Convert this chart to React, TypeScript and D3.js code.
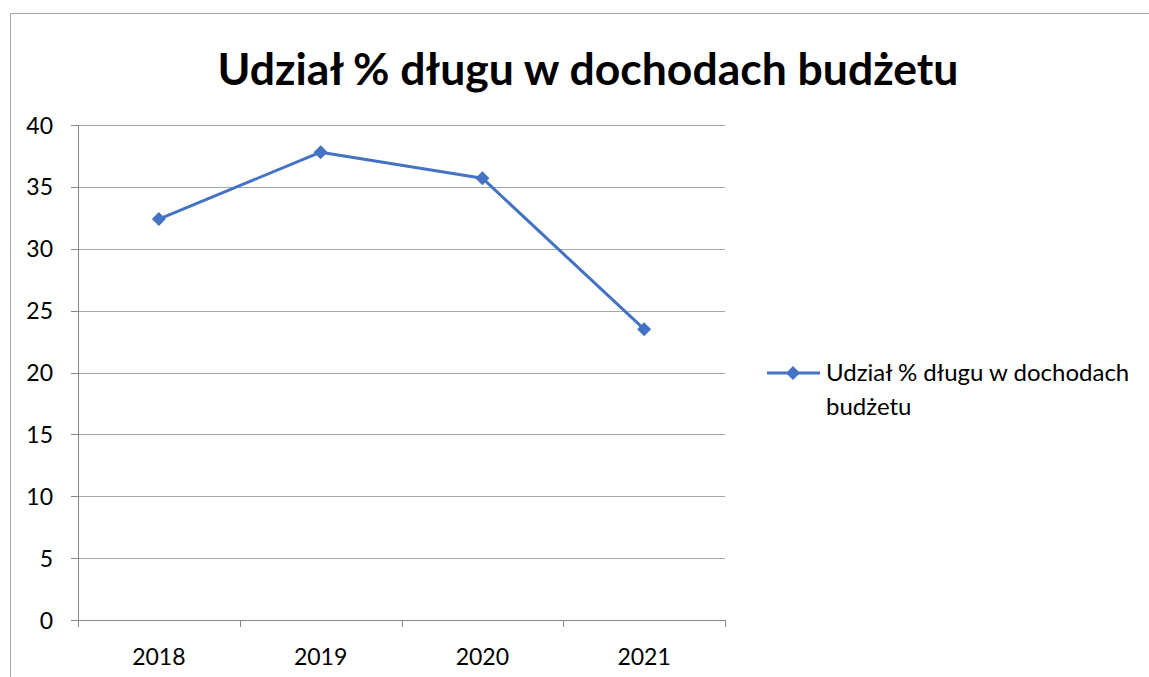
import React from "react";
import * as d3 from "d3";

const categories = ["2018", "2019", "2020", "2021"];
const values = [32.4, 37.8, 35.7, 23.5];
const yTicks = [0, 5, 10, 15, 20, 25, 30, 35, 40];
const title = "Udział % długu w dochodach budżetu";
const legendLines = ["Udział % długu w dochodach", "budżetu"];

const FONT = "Lato, 'Open Sans', sans-serif";
const BLUE = "#4472C4";

export default function App() {
  const left = 78, right = 725, top = 125, bottom = 620;
  const x = d3.scaleBand<string>().domain(categories).range([left, right]).padding(0);
  const y = d3.scaleLinear().domain([0, 40]).range([bottom, top]);
  const line = d3
    .line<number>()
    .x((_, i) => (x(categories[i]) as number) + x.bandwidth() / 2)
    .y((d) => y(d));
  const diamond = (cx: number, cy: number, r: number) =>
    `M${cx},${cy - r}L${cx + r},${cy}L${cx},${cy + r}L${cx - r},${cy}Z`;
  const xEdges = [...categories.map((c) => x(c) as number), right];

  return (
    <svg width={1149} height={677} style={{ position: "absolute", left: 0, top: 0 }}>
      <rect x={0} y={0} width={1149} height={677} fill="#fff" />
      <path d={`M10.5,700V13.5H1166`} fill="none" stroke="#a6a6a6" strokeWidth={1} />
      <text x={588} y={85} textAnchor="middle" fontFamily={FONT} fontWeight="bold" fontSize={44.5} fill="#000">
        {title}
      </text>
      {yTicks.map((t) => (
        <g key={t}>
          <line x1={left} x2={right} y1={Math.round(y(t)) + 0.5} y2={Math.round(y(t)) + 0.5}
            stroke={t === 0 ? "#868686" : "#a6a6a6"} strokeWidth={1} />
          <line x1={71} x2={left} y1={Math.round(y(t)) + 0.5} y2={Math.round(y(t)) + 0.5} stroke="#868686" />
          <text x={53} y={y(t) + 8.5} textAnchor="end" fontFamily={FONT} fontSize={23} fill="#000">{t}</text>
        </g>
      ))}
      <line x1={left + 0.5} x2={left + 0.5} y1={top} y2={bottom} stroke="#868686" />
      {xEdges.map((e, i) => (
        <line key={i} x1={Math.round(e) + 0.5} x2={Math.round(e) + 0.5} y1={bottom} y2={bottom + 7} stroke="#868686" />
      ))}
      {categories.map((c) => (
        <text key={c} x={(x(c) as number) + x.bandwidth() / 2} y={665} textAnchor="middle" fontFamily={FONT} fontSize={23} fill="#000">{c}</text>
      ))}
      <path d={line(values) || ""} fill="none" stroke={BLUE} strokeWidth={3} strokeLinejoin="round" />
      {values.map((v, i) => (
        <path key={i} d={diamond((x(categories[i]) as number) + x.bandwidth() / 2, y(v), 7)} fill={BLUE} />
      ))}
      <line x1={767} x2={820} y1={373} y2={373} stroke={BLUE} strokeWidth={3} />
      <path d={diamond(793, 373, 7)} fill={BLUE} />
      {legendLines.map((l, i) => (
        <text key={i} x={826} y={381 + i * 34} fontFamily={FONT} fontSize={24} fill="#000">{l}</text>
      ))}
    </svg>
  );
}
